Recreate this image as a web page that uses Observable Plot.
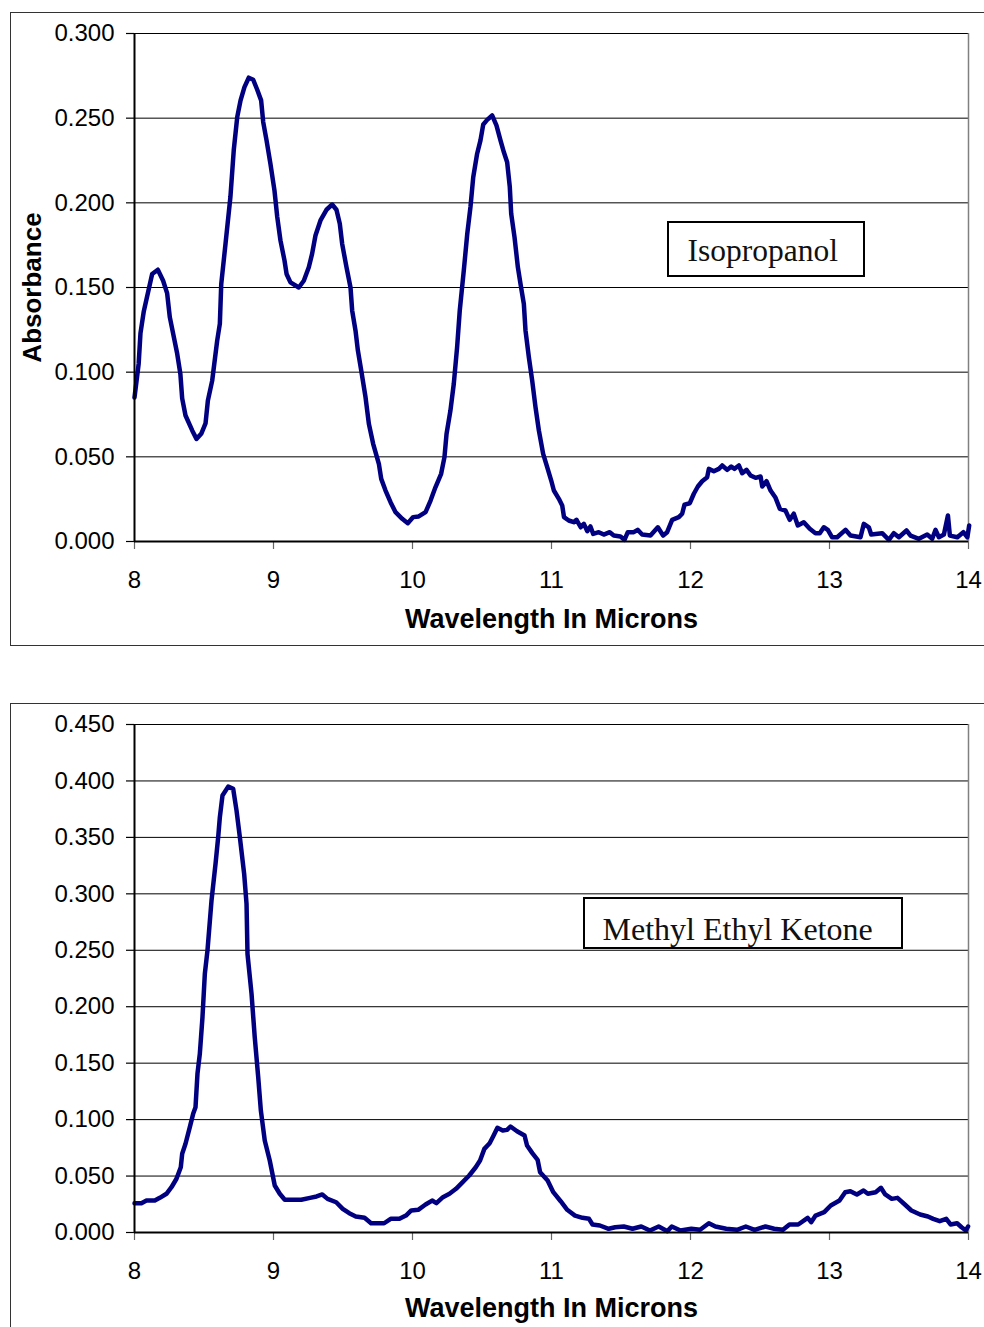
<!DOCTYPE html>
<html>
<head>
<meta charset="utf-8">
<script src="https://cdn.jsdelivr.net/npm/d3@7"></script>
<script src="https://cdn.jsdelivr.net/npm/@observablehq/plot@0.6"></script>
<style>
  html, body { margin: 0; padding: 0; background: #fff; }
  body { width: 984px; height: 1327px; overflow: hidden; position: relative; font-family: "Liberation Sans", Arial, sans-serif; }
  .frame { position: absolute; border: 1.5px solid #333; box-sizing: border-box; }
  #frame1 { left: 10px; top: 12px; width: 1000px; height: 634px; }
  #frame2 { left: 10px; top: 703px; width: 1000px; height: 700px; }
  .chart { position: absolute; left: 0; }
  #chart1 { top: 0; }
  #chart2 { top: 691px; }
  .lbl { position: absolute; border: 2.5px solid #000; box-sizing: border-box; overflow: hidden; background: #fff; }
  .lbl span { position: absolute; white-space: nowrap; font-family: "Liberation Serif", "Times New Roman", serif; line-height: 1; color: #111; }
  #lbl1 { left: 667px; top: 221px; width: 198px; height: 56px; }
  #lbl1 span { left: 18.5px; top: 12px; font-size: 31.5px; }
  #lbl2 { left: 583px; top: 897px; width: 320px; height: 52px; }
  #lbl2 span { left: 17.5px; top: 13.5px; font-size: 32px; }
</style>
</head>
<body>
<div class="frame" id="frame1"></div>
<div class="frame" id="frame2"></div>
<div class="chart" id="chart1"></div>
<div class="chart" id="chart2"></div>
<div class="lbl" id="lbl1"><span>Isopropanol</span></div>
<div class="lbl" id="lbl2"><span>Methyl Ethyl Ketone</span></div>
<script>
// ---------- data ----------
const xTicks = [8, 9, 10, 11, 12, 13, 14];
const ipaYTicks = [0, 0.05, 0.1, 0.15, 0.2, 0.25, 0.3];
const mekYTicks = [0, 0.05, 0.1, 0.15, 0.2, 0.25, 0.3, 0.35, 0.4, 0.45];
const xTitle = "Wavelength In Microns";
const yTitle = "Absorbance";

// Isopropanol spectrum
const ipaWavelength = [
  8.000, 8.030, 8.043, 8.067, 8.127, 8.168, 8.206, 8.235, 8.254, 8.307, 8.330, 8.343, 8.367, 8.415, 8.446,
  8.480, 8.511, 8.528, 8.559, 8.595, 8.614, 8.624, 8.655, 8.690, 8.714, 8.739, 8.763, 8.791, 8.822, 8.854,
  8.883, 8.911, 8.926, 8.950, 8.978, 9.007, 9.027, 9.050, 9.079, 9.094, 9.122, 9.182, 9.218, 9.254, 9.278,
  9.302, 9.338, 9.381, 9.422, 9.453, 9.477, 9.494, 9.525, 9.554, 9.566, 9.590, 9.607, 9.631, 9.662, 9.686,
  9.717, 9.758, 9.775, 9.806, 9.842, 9.878, 9.926, 9.966, 10.005, 10.045, 10.094, 10.130, 10.165, 10.206, 10.230,
  10.245, 10.273, 10.297, 10.321, 10.340, 10.369, 10.394, 10.417, 10.437, 10.465, 10.489, 10.509, 10.537, 10.573, 10.604,
  10.633, 10.657, 10.681, 10.700, 10.710, 10.734, 10.758, 10.777, 10.801, 10.813, 10.837, 10.861, 10.885, 10.909, 10.940,
  10.969, 10.998, 11.017, 11.053, 11.077, 11.090, 11.124, 11.160, 11.180, 11.210, 11.233, 11.257, 11.280, 11.300, 11.340,
  11.376, 11.419, 11.448, 11.496, 11.525, 11.549, 11.592, 11.620, 11.652, 11.712, 11.765, 11.803, 11.832, 11.868, 11.916,
  11.940, 11.957, 11.995, 12.024, 12.053, 12.084, 12.120, 12.132, 12.168, 12.204, 12.228, 12.264, 12.293, 12.317, 12.348,
  12.372, 12.403, 12.432, 12.468, 12.504, 12.516, 12.547, 12.576, 12.612, 12.643, 12.683, 12.714, 12.743, 12.772, 12.815,
  12.858, 12.899, 12.930, 12.959, 12.988, 13.019, 13.055, 13.115, 13.151, 13.223, 13.247, 13.283, 13.300, 13.379, 13.427,
  13.463, 13.499, 13.554, 13.583, 13.643, 13.703, 13.739, 13.763, 13.787, 13.823, 13.852, 13.866, 13.920, 13.963, 13.992,
  14.005
];
const ipaAbsorbance = [
  0.0850, 0.1050, 0.1230, 0.1360, 0.1580, 0.1605, 0.1540, 0.1465, 0.1325, 0.1110, 0.0990, 0.0845, 0.0744, 0.0656, 0.0606,
  0.0636, 0.0697, 0.0833, 0.0950, 0.1187, 0.1286, 0.1520, 0.1760, 0.2034, 0.2310, 0.2506, 0.2605, 0.2683, 0.2739, 0.2727,
  0.2668, 0.2605, 0.2477, 0.2369, 0.2230, 0.2073, 0.1916, 0.1778, 0.1660, 0.1580, 0.1530, 0.1500, 0.1540, 0.1620, 0.1700,
  0.1807, 0.1896, 0.1959, 0.1990, 0.1959, 0.1876, 0.1758, 0.1620, 0.1500, 0.1364, 0.1246, 0.1128, 0.1010, 0.0852, 0.0695,
  0.0577, 0.0459, 0.0370, 0.0301, 0.0232, 0.0173, 0.0134, 0.0108, 0.0144, 0.0148, 0.0173, 0.0242, 0.0320, 0.0400, 0.0498,
  0.0636, 0.0774, 0.0931, 0.1148, 0.1364, 0.1600, 0.1817, 0.1975, 0.2152, 0.2290, 0.2369, 0.2463, 0.2490, 0.2516, 0.2457,
  0.2369, 0.2300, 0.2240, 0.2093, 0.1936, 0.1797, 0.1620, 0.1522, 0.1404, 0.1246, 0.1089, 0.0951, 0.0793, 0.0656, 0.0518,
  0.0439, 0.0360, 0.0301, 0.0252, 0.0213, 0.0144, 0.0124, 0.0114, 0.0128, 0.0084, 0.0104, 0.0061, 0.0089, 0.0045, 0.0055,
  0.0041, 0.0055, 0.0035, 0.0030, 0.0010, 0.0055, 0.0055, 0.0069, 0.0041, 0.0035, 0.0084, 0.0035, 0.0055, 0.0128, 0.0144,
  0.0164, 0.0218, 0.0226, 0.0282, 0.0325, 0.0356, 0.0380, 0.0429, 0.0415, 0.0429, 0.0449, 0.0423, 0.0443, 0.0429, 0.0449,
  0.0403, 0.0423, 0.0390, 0.0376, 0.0384, 0.0325, 0.0356, 0.0301, 0.0258, 0.0193, 0.0183, 0.0128, 0.0164, 0.0095, 0.0114,
  0.0075, 0.0049, 0.0049, 0.0084, 0.0069, 0.0025, 0.0025, 0.0069, 0.0035, 0.0025, 0.0104, 0.0084, 0.0041, 0.0049, 0.0010,
  0.0049, 0.0025, 0.0065, 0.0035, 0.0016, 0.0041, 0.0016, 0.0069, 0.0025, 0.0041, 0.0154, 0.0035, 0.0025, 0.0055, 0.0025,
  0.0095
];

// Methyl Ethyl Ketone spectrum
const mekWavelength = [
  8.000, 8.050, 8.086, 8.146, 8.182, 8.230, 8.266, 8.302, 8.333, 8.343, 8.367, 8.398, 8.422, 8.439, 8.453,
  8.470, 8.489, 8.506, 8.525, 8.554, 8.583, 8.602, 8.614, 8.633, 8.674, 8.710, 8.734, 8.758, 8.789, 8.806,
  8.813, 8.842, 8.865, 8.890, 8.909, 8.937, 8.973, 9.009, 9.045, 9.081, 9.153, 9.200, 9.263, 9.310, 9.351,
  9.389, 9.451, 9.498, 9.545, 9.592, 9.655, 9.702, 9.796, 9.843, 9.906, 9.953, 9.991, 10.041, 10.094, 10.141,
  10.172, 10.219, 10.266, 10.313, 10.361, 10.408, 10.455, 10.486, 10.517, 10.555, 10.580, 10.611, 10.649, 10.680, 10.705,
  10.752, 10.806, 10.824, 10.862, 10.900, 10.918, 10.972, 11.013, 11.066, 11.113, 11.169, 11.223, 11.270, 11.295, 11.348,
  11.411, 11.458, 11.520, 11.583, 11.646, 11.708, 11.771, 11.834, 11.865, 11.928, 12.006, 12.069, 12.132, 12.179, 12.257,
  12.335, 12.398, 12.461, 12.539, 12.602, 12.665, 12.712, 12.775, 12.843, 12.868, 12.900, 12.962, 13.009, 13.072, 13.113,
  13.150, 13.197, 13.245, 13.276, 13.332, 13.370, 13.401, 13.448, 13.489, 13.542, 13.589, 13.652, 13.708, 13.746, 13.793,
  13.840, 13.871, 13.918, 13.950, 13.981, 13.997
];
const mekAbsorbance = [
  0.0260, 0.0260, 0.0283, 0.0283, 0.0307, 0.0343, 0.0401, 0.0476, 0.0578, 0.0697, 0.0786, 0.0933, 0.1051, 0.1110, 0.1406,
  0.1583, 0.1907, 0.2291, 0.2498, 0.2940, 0.3266, 0.3501, 0.3678, 0.3871, 0.3950, 0.3930, 0.3738, 0.3501, 0.3176, 0.2911,
  0.2467, 0.2114, 0.1730, 0.1376, 0.1080, 0.0815, 0.0638, 0.0416, 0.0343, 0.0290, 0.0290, 0.0290, 0.0307, 0.0319, 0.0337,
  0.0298, 0.0268, 0.0210, 0.0171, 0.0142, 0.0130, 0.0082, 0.0082, 0.0121, 0.0121, 0.0150, 0.0195, 0.0201, 0.0248, 0.0283,
  0.0260, 0.0313, 0.0343, 0.0387, 0.0446, 0.0505, 0.0578, 0.0638, 0.0741, 0.0791, 0.0850, 0.0927, 0.0903, 0.0909, 0.0939,
  0.0897, 0.0859, 0.0771, 0.0703, 0.0644, 0.0534, 0.0461, 0.0357, 0.0277, 0.0201, 0.0150, 0.0130, 0.0121, 0.0071, 0.0062,
  0.0033, 0.0047, 0.0053, 0.0033, 0.0053, 0.0018, 0.0053, 0.0012, 0.0053, 0.0018, 0.0033, 0.0024, 0.0082, 0.0053, 0.0033,
  0.0024, 0.0053, 0.0024, 0.0053, 0.0033, 0.0024, 0.0071, 0.0071, 0.0130, 0.0091, 0.0150, 0.0180, 0.0239, 0.0283, 0.0357,
  0.0366, 0.0337, 0.0372, 0.0343, 0.0357, 0.0396, 0.0337, 0.0298, 0.0307, 0.0248, 0.0195, 0.0159, 0.0142, 0.0121, 0.0100,
  0.0121, 0.0071, 0.0082, 0.0047, 0.0018, 0.0053
];

// ---------- drawing ----------
const fmt = d3.format(".3f");

function spectrum(wl, ab, yTicks, showYTitle, titleDy) {
  const data = wl.map((w, i) => ({wl: w, abs: ab[i]}));
  const marks = [
    Plot.ruleY(yTicks, {stroke: "#000", strokeWidth: 1}),
    Plot.ruleX([d3.max(xTicks)], {stroke: "#808080", strokeWidth: 1.5}),
    Plot.axisY(yTicks, {tickFormat: fmt, tickSize: 8, tickPadding: 12, fontSize: 24, label: null, stroke: "#000", strokeWidth: 1.2}),
    Plot.axisX(xTicks, {tickFormat: d3.format("d"), tickSize: 8, tickPadding: 21, fontSize: 24, label: null, stroke: "#666", strokeWidth: 1.2}),
    Plot.line(data, {x: "wl", y: "abs", stroke: "#000080", strokeWidth: 4.5, strokeLinejoin: "round", strokeLinecap: "round"}),
    Plot.ruleX([d3.min(xTicks)], {stroke: "#000", strokeWidth: 2}),
    Plot.ruleY([0], {stroke: "#000", strokeWidth: 2}),
    Plot.text([xTitle], {frameAnchor: "bottom", lineAnchor: "middle", textAnchor: "middle", dy: titleDy, fontSize: 27, fontWeight: "bold", fill: "#000", text: d => d})
  ];
  if (showYTitle) {
    marks.push(Plot.text([yTitle], {frameAnchor: "left", textAnchor: "middle", lineAnchor: "middle", dx: -102, rotate: -90, fontSize: 26, fontWeight: "bold", fill: "#000", text: d => d}));
  }
  return Plot.plot({
    width: 984,
    height: 660,
    marginLeft: 134,
    marginRight: 16,
    marginTop: 33,
    marginBottom: 119,
    style: {background: "transparent", fontFamily: "'Liberation Sans', Arial, sans-serif", color: "#000", overflow: "visible"},
    x: {domain: [d3.min(xTicks), d3.max(xTicks)]},
    y: {domain: [0, d3.max(yTicks)]},
    marks
  });
}

document.getElementById("chart1").appendChild(spectrum(ipaWavelength, ipaAbsorbance, ipaYTicks, true, 78));
document.getElementById("chart2").appendChild(spectrum(mekWavelength, mekAbsorbance, mekYTicks, false, 76));
</script>
</body>
</html>
